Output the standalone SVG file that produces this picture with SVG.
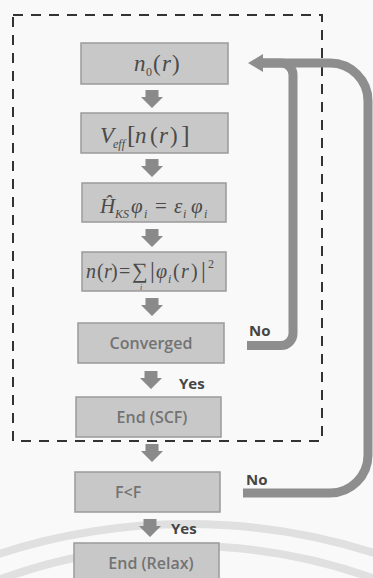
<svg xmlns="http://www.w3.org/2000/svg" width="373" height="578" viewBox="0 0 373 578">
<style>
.box{fill:#c8c8c8;stroke:#9a9a9a;stroke-width:1.5}
.math{font-family:"Liberation Serif",serif;font-style:italic;fill:#4a4a4a}
.up{font-style:normal}
.sub{font-size:12px}
.lbl{font-family:"Open Sans","Liberation Sans",sans-serif;font-weight:600;font-size:16px;fill:#737373}
.yn{font-family:"Open Sans","Liberation Sans",sans-serif;font-weight:700;font-size:15px;fill:#454545}
.darr{fill:#8a8a8a}
.loop{fill:none;stroke:#8e8e8e;stroke-width:9}
</style>
<defs>
<path id="da" d="M-6.5,0 H6.5 V7 H11 L0,18 L-11,7 H-6.5 Z"/>
</defs>
<rect width="373" height="578" fill="#f9f9f9"/>
<g id="watermark" fill="none" stroke="#e0e0e0" stroke-width="8">
<circle cx="188" cy="1135" r="611"/>
<circle cx="188" cy="1092" r="546"/>
</g>
<g id="scf-frame">
<rect x="13" y="15" width="309" height="426" fill="none" stroke="#333" stroke-width="2" stroke-dasharray="10 8"/>
</g>
<g id="n0">
<rect class="box" x="81" y="43" width="147" height="41"/>
<text class="math" font-size="23" y="71"><tspan x="134">n</tspan><tspan class="sub up" x="146" dy="5">0</tspan><tspan class="up" x="153" dy="-5">(</tspan><tspan x="162">r</tspan><tspan class="up" x="172">)</tspan></text>
</g>
<g id="veff">
<rect class="box" x="81" y="113" width="147" height="40"/>
<text class="math" font-size="23" y="143"><tspan x="100">V</tspan><tspan class="sub" x="113" dy="5">eff</tspan><tspan class="up" x="127" dy="-5" font-size="26">[</tspan><tspan x="135">n</tspan><tspan class="up" x="150">(</tspan><tspan x="159">r</tspan><tspan class="up" x="170">)</tspan><tspan class="up" x="181" font-size="26">]</tspan></text>
</g>
<g id="hks">
<rect class="box" x="82" y="183" width="144" height="39"/>
<text class="math" font-size="21" y="213"><tspan x="100">Ĥ</tspan><tspan class="sub" x="115" dy="5">KS</tspan><tspan x="131" dy="-5">φ</tspan><tspan class="sub" x="144" dy="5">i</tspan><tspan class="up" x="155" dy="-5">=</tspan><tspan x="174">ε</tspan><tspan class="sub" x="183" dy="5">i</tspan><tspan x="191" dy="-5">φ</tspan><tspan class="sub" x="204" dy="5">i</tspan></text>
</g>
<g id="density">
<rect class="box" x="82" y="252" width="144" height="39"/>
<text class="math" font-size="20" y="278"><tspan x="86">n</tspan><tspan class="up" x="97">(</tspan><tspan x="104">r</tspan><tspan class="up" x="111">)</tspan><tspan class="up" x="119">=</tspan><tspan class="up" x="132" font-size="22">∑</tspan><tspan class="up" x="150" font-size="24">|</tspan><tspan x="156">φ</tspan><tspan class="sub" x="168" dy="5">i</tspan><tspan class="up" x="173" dy="-5">(</tspan><tspan x="181">r</tspan><tspan class="up" x="191">)</tspan><tspan class="up" x="201" font-size="24">|</tspan><tspan class="sub up" x="208" dy="-10">2</tspan></text>
<text class="math" font-size="8" x="140" y="290">i</text>
</g>
<g id="converged">
<rect class="box" x="78" y="323" width="146" height="40"/>
<text class="lbl" x="151" y="349" text-anchor="middle">Converged</text>
</g>
<g id="end-scf">
<rect class="box" x="76" y="397" width="145" height="40"/>
<text class="lbl" x="152" y="423" text-anchor="middle">End (SCF)</text>
</g>
<g id="force">
<rect class="box" x="75" y="472" width="145" height="40"/>
<text class="lbl" x="115" y="498">F&lt;F</text>
</g>
<g id="end-relax">
<rect class="box" x="74" y="543" width="145" height="40"/>
<text class="lbl" x="151" y="569" text-anchor="middle">End (Relax)</text>
</g>
<g id="connectors">
<use href="#da" class="darr" x="152" y="90"/>
<use href="#da" class="darr" x="152" y="159"/>
<use href="#da" class="darr" x="152" y="229"/>
<use href="#da" class="darr" x="152" y="298"/>
<use href="#da" class="darr" x="151" y="371"/>
<use href="#da" class="darr" x="152" y="444"/>
<use href="#da" class="darr" x="150" y="519"/>
<path class="loop" d="M247,345.5 H281 A12,12 0 0 0 293,333.5 V75 A12,12 0 0 0 281,63 H260"/>
<path class="loop" d="M243,493 H330 A38,38 0 0 0 368,455 V101 A38,38 0 0 0 330,63 H260"/>
<polygon points="248,63 263,54 263,72" fill="#8e8e8e"/>
<text class="yn" x="249" y="336">No</text>
<text class="yn" x="179" y="389">Yes</text>
<text class="yn" x="246" y="485">No</text>
<text class="yn" x="171" y="534">Yes</text>
</g>
</svg>
